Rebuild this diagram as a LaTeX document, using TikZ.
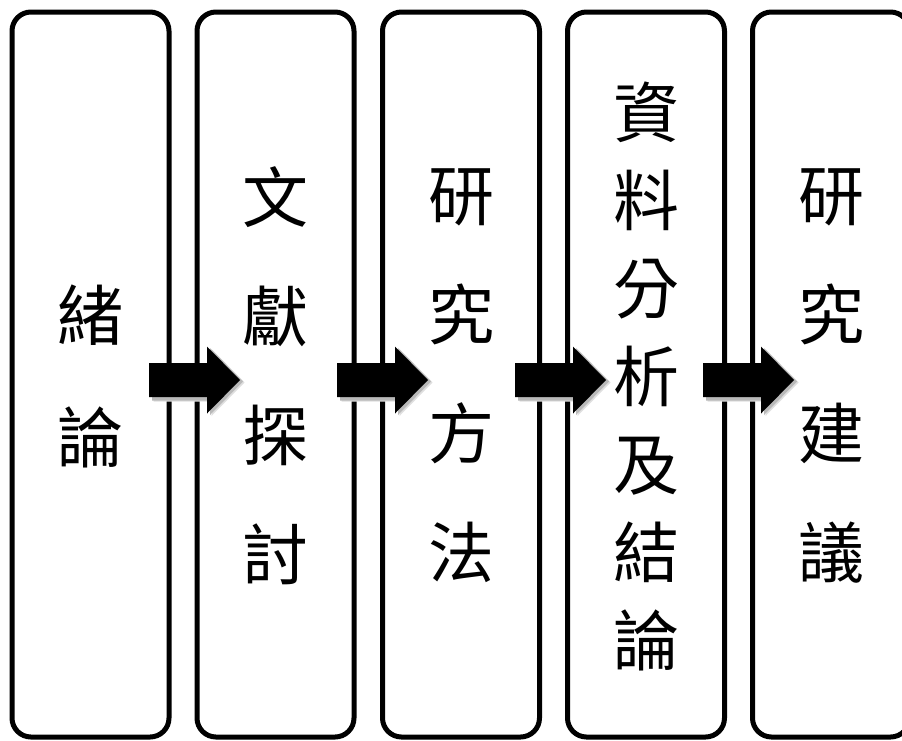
\documentclass[tikz,border=0pt]{standalone}
\usepackage{fontspec}
\newfontfamily\cjk{Noto Sans CJK TC}
\begin{document}
\begin{tikzpicture}[x=1pt,y=-1pt,
  stagebox/.style={draw=black,line width=5pt,rounded corners=19pt,
    minimum width=157pt,minimum height=725pt,inner sep=0pt,fill=white},
  stagetext/.style={align=center,inner sep=0pt,text=black},
  blockarrow/.pic={
    \fill[gray!25] (4.5,-14.5) -- (62.5,-14.5) -- (62.5,-31) -- (95.5,2.5) -- (62.5,36) -- (62.5,21.5) -- (4.5,21.5) -- cycle;
    \fill[gray!55] (3,-15.5) -- (61,-15.5) -- (61,-32) -- (94,1.5) -- (61,35) -- (61,20.5) -- (3,20.5) -- cycle;
    \fill[black] (0,-17) -- (58,-17) -- (58,-33.5) -- (91,0) -- (58,33.5) -- (58,17) -- (0,17) -- cycle;
  }]
\useasboundingbox (0,0) rectangle (902,740);
\clip (0,0) rectangle (902,740);
\fill[white] (0,0) rectangle (902,740);

\node[stagebox] (b1) at (90.5,374.5) {};
\node[stagebox] (b2) at (275.5,374.5) {};
\node[stagebox] (b3) at (461,374.5) {};
\node[stagebox] (b4) at (646,374.5) {};
\node[stagebox] (b5) at (831,374.5) {};

\node[stagetext,font={\cjk\fontsize{66}{122}\selectfont}] (t1) at (90.5,376) {緒\\論};
\node[stagetext,font={\cjk\fontsize{66}{119}\selectfont}] (t2) at (275.5,376) {文\\獻\\探\\討};
\node[stagetext,font={\cjk\fontsize{66}{119}\selectfont}] (t3) at (461,376) {研\\究\\方\\法};
\node[stagetext,font={\cjk\fontsize{66}{88}\selectfont}] (t4) at (646,376) {資\\料\\分\\析\\及\\結\\論};
\node[stagetext,font={\cjk\fontsize{66}{119}\selectfont}] (t5) at (831,376) {研\\究\\建\\議};

\coordinate (a1) at ([xshift=-22.5pt]b1.east |- 0,380);
\coordinate (a2) at ([xshift=-19.5pt]b2.east |- 0,380);
\coordinate (a3) at ([xshift=-27pt]b3.east |- 0,380);
\coordinate (a4) at ([xshift=-24pt]b4.east |- 0,380);
\pic at (a1) {blockarrow};
\pic at (a2) {blockarrow};
\pic at (a3) {blockarrow};
\pic at (a4) {blockarrow};
\end{tikzpicture}
\end{document}
